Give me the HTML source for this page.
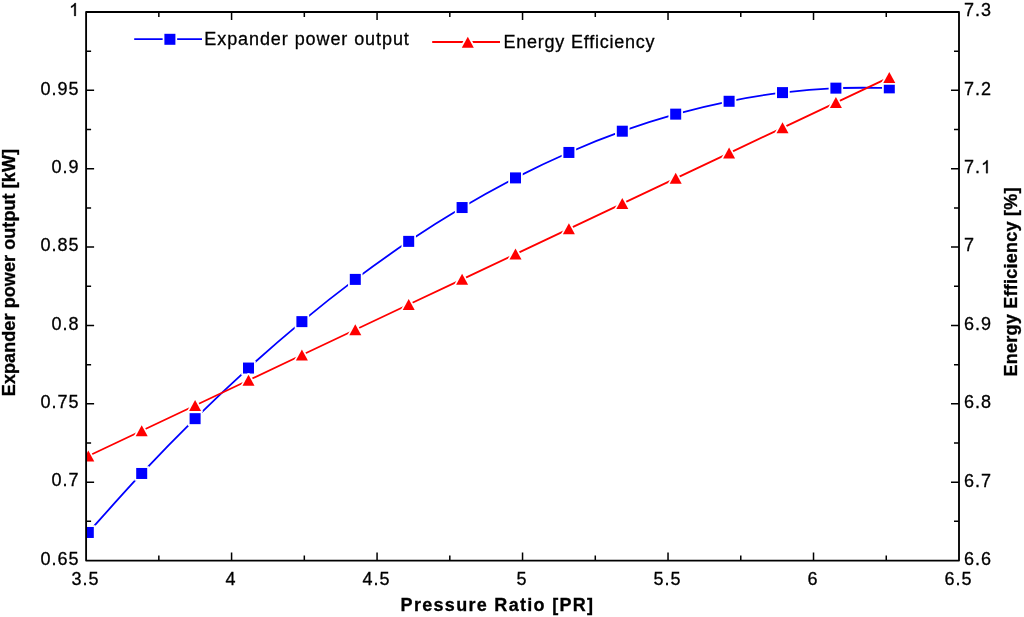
<!DOCTYPE html><html><head><meta charset="utf-8"><style>html,body{margin:0;padding:0;background:#fff;}svg{display:block;will-change:transform;}text{font-family:"Liberation Sans",sans-serif;stroke:#000;stroke-width:0.3px;}</style></head><body>
<svg width="1024" height="617" viewBox="0 0 1024 617">
<rect width="1024" height="617" fill="#fff"/>
<defs><clipPath id="pc"><rect x="86.1" y="12.0" width="872.9" height="548.55"/></clipPath></defs>
<g clip-path="url(#pc)">
<path d="M88.30,532.47 C97.20,522.64 123.90,492.44 141.70,473.47 C159.50,454.50 177.30,436.23 195.10,418.66 C212.90,401.09 230.70,384.22 248.50,368.05 C266.30,351.87 284.10,336.40 301.90,321.63 C319.70,306.85 337.50,292.78 355.30,279.40 C373.10,266.03 390.90,253.35 408.70,241.37 C426.50,229.40 444.30,218.12 462.10,207.54 C479.90,196.96 497.70,187.08 515.50,177.90 C533.30,168.72 551.10,160.23 568.90,152.45 C586.70,144.67 604.50,137.58 622.30,131.20 C640.10,124.82 657.90,119.13 675.70,114.14 C693.50,109.16 711.30,104.87 729.10,101.28 C746.90,97.69 764.70,94.80 782.50,92.61 C800.30,90.42 818.10,88.93 835.90,88.14 C853.70,87.35 880.40,87.91 889.30,87.86" fill="none" stroke="#00f" stroke-width="1.8"/>
<rect x="82.80" y="526.97" width="11.0" height="11.0" fill="#00f" stroke="#fff" stroke-width="3.5" paint-order="stroke"/>
<rect x="136.20" y="467.97" width="11.0" height="11.0" fill="#00f" stroke="#fff" stroke-width="3.5" paint-order="stroke"/>
<rect x="189.60" y="413.16" width="11.0" height="11.0" fill="#00f" stroke="#fff" stroke-width="3.5" paint-order="stroke"/>
<rect x="243.00" y="362.55" width="11.0" height="11.0" fill="#00f" stroke="#fff" stroke-width="3.5" paint-order="stroke"/>
<rect x="296.40" y="316.13" width="11.0" height="11.0" fill="#00f" stroke="#fff" stroke-width="3.5" paint-order="stroke"/>
<rect x="349.80" y="273.90" width="11.0" height="11.0" fill="#00f" stroke="#fff" stroke-width="3.5" paint-order="stroke"/>
<rect x="403.20" y="235.87" width="11.0" height="11.0" fill="#00f" stroke="#fff" stroke-width="3.5" paint-order="stroke"/>
<rect x="456.60" y="202.04" width="11.0" height="11.0" fill="#00f" stroke="#fff" stroke-width="3.5" paint-order="stroke"/>
<rect x="510.00" y="172.40" width="11.0" height="11.0" fill="#00f" stroke="#fff" stroke-width="3.5" paint-order="stroke"/>
<rect x="563.40" y="146.95" width="11.0" height="11.0" fill="#00f" stroke="#fff" stroke-width="3.5" paint-order="stroke"/>
<rect x="616.80" y="125.70" width="11.0" height="11.0" fill="#00f" stroke="#fff" stroke-width="3.5" paint-order="stroke"/>
<rect x="670.20" y="108.64" width="11.0" height="11.0" fill="#00f" stroke="#fff" stroke-width="3.5" paint-order="stroke"/>
<rect x="723.60" y="95.78" width="11.0" height="11.0" fill="#00f" stroke="#fff" stroke-width="3.5" paint-order="stroke"/>
<rect x="777.00" y="87.11" width="11.0" height="11.0" fill="#00f" stroke="#fff" stroke-width="3.5" paint-order="stroke"/>
<rect x="830.40" y="82.64" width="11.0" height="11.0" fill="#00f" stroke="#fff" stroke-width="3.5" paint-order="stroke"/>
<rect x="883.80" y="82.36" width="11.0" height="11.0" fill="#00f" stroke="#fff" stroke-width="3.5" paint-order="stroke"/>
<path d="M88.30,456.02 L141.70,430.78 L195.10,405.53 L248.50,380.29 L301.90,355.05 L355.30,329.81 L408.70,304.56 L462.10,279.32 L515.50,254.08 L568.90,228.83 L622.30,203.59 L675.70,178.35 L729.10,153.10 L782.50,127.86 L835.90,102.62 L889.30,77.38" fill="none" stroke="#f00" stroke-width="1.8"/>
<path d="M88.30,450.52 L94.30,461.52 L82.30,461.52 Z" fill="#f00" stroke="#fff" stroke-width="3.5" stroke-linejoin="round" paint-order="stroke"/>
<path d="M141.70,425.28 L147.70,436.28 L135.70,436.28 Z" fill="#f00" stroke="#fff" stroke-width="3.5" stroke-linejoin="round" paint-order="stroke"/>
<path d="M195.10,400.03 L201.10,411.03 L189.10,411.03 Z" fill="#f00" stroke="#fff" stroke-width="3.5" stroke-linejoin="round" paint-order="stroke"/>
<path d="M248.50,374.79 L254.50,385.79 L242.50,385.79 Z" fill="#f00" stroke="#fff" stroke-width="3.5" stroke-linejoin="round" paint-order="stroke"/>
<path d="M301.90,349.55 L307.90,360.55 L295.90,360.55 Z" fill="#f00" stroke="#fff" stroke-width="3.5" stroke-linejoin="round" paint-order="stroke"/>
<path d="M355.30,324.31 L361.30,335.31 L349.30,335.31 Z" fill="#f00" stroke="#fff" stroke-width="3.5" stroke-linejoin="round" paint-order="stroke"/>
<path d="M408.70,299.06 L414.70,310.06 L402.70,310.06 Z" fill="#f00" stroke="#fff" stroke-width="3.5" stroke-linejoin="round" paint-order="stroke"/>
<path d="M462.10,273.82 L468.10,284.82 L456.10,284.82 Z" fill="#f00" stroke="#fff" stroke-width="3.5" stroke-linejoin="round" paint-order="stroke"/>
<path d="M515.50,248.58 L521.50,259.58 L509.50,259.58 Z" fill="#f00" stroke="#fff" stroke-width="3.5" stroke-linejoin="round" paint-order="stroke"/>
<path d="M568.90,223.33 L574.90,234.33 L562.90,234.33 Z" fill="#f00" stroke="#fff" stroke-width="3.5" stroke-linejoin="round" paint-order="stroke"/>
<path d="M622.30,198.09 L628.30,209.09 L616.30,209.09 Z" fill="#f00" stroke="#fff" stroke-width="3.5" stroke-linejoin="round" paint-order="stroke"/>
<path d="M675.70,172.85 L681.70,183.85 L669.70,183.85 Z" fill="#f00" stroke="#fff" stroke-width="3.5" stroke-linejoin="round" paint-order="stroke"/>
<path d="M729.10,147.60 L735.10,158.60 L723.10,158.60 Z" fill="#f00" stroke="#fff" stroke-width="3.5" stroke-linejoin="round" paint-order="stroke"/>
<path d="M782.50,122.36 L788.50,133.36 L776.50,133.36 Z" fill="#f00" stroke="#fff" stroke-width="3.5" stroke-linejoin="round" paint-order="stroke"/>
<path d="M835.90,97.12 L841.90,108.12 L829.90,108.12 Z" fill="#f00" stroke="#fff" stroke-width="3.5" stroke-linejoin="round" paint-order="stroke"/>
<path d="M889.30,71.88 L895.30,82.88 L883.30,82.88 Z" fill="#f00" stroke="#fff" stroke-width="3.5" stroke-linejoin="round" paint-order="stroke"/>
</g>
<rect x="86.1" y="12.0" width="872.9" height="548.55" fill="none" stroke="#000" stroke-width="1.85" stroke-linejoin="round"/>
<path d="M158.84,560.55v-5.0M158.84,12.0v5.0M231.58,560.55v-8.0M231.58,12.0v8.0M304.32,560.55v-5.0M304.32,12.0v5.0M377.07,560.55v-8.0M377.07,12.0v8.0M449.81,560.55v-5.0M449.81,12.0v5.0M522.55,560.55v-8.0M522.55,12.0v8.0M595.29,560.55v-5.0M595.29,12.0v5.0M668.03,560.55v-8.0M668.03,12.0v8.0M740.77,560.55v-5.0M740.77,12.0v5.0M813.52,560.55v-8.0M813.52,12.0v8.0M886.26,560.55v-5.0M886.26,12.0v5.0M86.1,521.37h5.0M86.1,482.19h8.0M86.1,443.00h5.0M86.1,403.82h8.0M86.1,364.64h5.0M86.1,325.46h8.0M86.1,286.27h5.0M86.1,247.09h8.0M86.1,207.91h5.0M86.1,168.73h8.0M86.1,129.55h5.0M86.1,90.36h8.0M86.1,51.18h5.0M959.0,521.37h-5.0M959.0,482.19h-8.0M959.0,443.00h-5.0M959.0,403.82h-8.0M959.0,364.64h-5.0M959.0,325.46h-8.0M959.0,286.28h-5.0M959.0,247.09h-8.0M959.0,207.91h-5.0M959.0,168.73h-8.0M959.0,129.55h-5.0M959.0,90.36h-8.0M959.0,51.18h-5.0" stroke="#000" stroke-width="1.5" fill="none"/>
<text x="79.50" y="564.75" font-size="18" letter-spacing="1.0" text-anchor="end">0.65</text>
<text x="79.50" y="486.39" font-size="18" letter-spacing="1.0" text-anchor="end">0.7</text>
<text x="79.50" y="408.02" font-size="18" letter-spacing="1.0" text-anchor="end">0.75</text>
<text x="79.50" y="329.66" font-size="18" letter-spacing="1.0" text-anchor="end">0.8</text>
<text x="79.50" y="251.29" font-size="18" letter-spacing="1.0" text-anchor="end">0.85</text>
<text x="79.50" y="172.93" font-size="18" letter-spacing="1.0" text-anchor="end">0.9</text>
<text x="79.50" y="94.56" font-size="18" letter-spacing="1.0" text-anchor="end">0.95</text>
<path transform="translate(69.10,15.90) scale(0.008789,-0.008789)" d="M763,0L583,0L583,1147C540,1106 483,1064 413,1023C343,982 280,951 223,930L223,1104C324,1151 412,1208 487,1274C562,1340 615,1404 646,1466L763,1466Z" fill="#000" stroke="#000" stroke-width="34.1"/>
<text x="964.00" y="564.95" font-size="18" letter-spacing="1.0">6.6</text>
<text x="964.00" y="486.59" font-size="18" letter-spacing="1.0">6.7</text>
<text x="964.00" y="408.22" font-size="18" letter-spacing="1.0">6.8</text>
<text x="964.00" y="329.86" font-size="18" letter-spacing="1.0">6.9</text>
<text x="964.00" y="251.49" font-size="18" letter-spacing="1.0">7</text>
<text x="964.00" y="173.13" font-size="18" letter-spacing="1.0">7.</text>
<path transform="translate(981.01,173.13) scale(0.008789,-0.008789)" d="M763,0L583,0L583,1147C540,1106 483,1064 413,1023C343,982 280,951 223,930L223,1104C324,1151 412,1208 487,1274C562,1340 615,1404 646,1466L763,1466Z" fill="#000" stroke="#000" stroke-width="34.1"/>
<text x="964.00" y="94.76" font-size="18" letter-spacing="1.0">7.2</text>
<text x="964.00" y="16.40" font-size="18" letter-spacing="1.0">7.3</text>
<text x="85.60" y="584.6" font-size="18" letter-spacing="1.0" text-anchor="middle">3.5</text>
<text x="231.08" y="584.6" font-size="18" letter-spacing="1.0" text-anchor="middle">4</text>
<text x="376.57" y="584.6" font-size="18" letter-spacing="1.0" text-anchor="middle">4.5</text>
<text x="522.05" y="584.6" font-size="18" letter-spacing="1.0" text-anchor="middle">5</text>
<text x="667.53" y="584.6" font-size="18" letter-spacing="1.0" text-anchor="middle">5.5</text>
<text x="813.02" y="584.6" font-size="18" letter-spacing="1.0" text-anchor="middle">6</text>
<text x="958.50" y="584.6" font-size="18" letter-spacing="1.0" text-anchor="middle">6.5</text>
<path d="M134.2,39.1H202" stroke="#00f" stroke-width="1.8"/>
<rect x="164.4" y="33.8" width="11.0" height="11.0" fill="#00f" stroke="#fff" stroke-width="3.5" paint-order="stroke"/>
<text x="204.3" y="45.2" font-size="18" letter-spacing="0.92">Expander power output</text>
<path d="M432.2,42H500" stroke="#f00" stroke-width="1.8"/>
<path d="M467.80,36.70 L473.80,47.70 L461.80,47.70 Z" fill="#f00" stroke="#fff" stroke-width="3.5" stroke-linejoin="round" paint-order="stroke"/>
<text x="503.4" y="48" font-size="18" letter-spacing="0.78">Energy Efficiency</text>
<text x="400.6" y="611" font-size="18" font-weight="bold" letter-spacing="1.3">Pressure Ratio [PR]</text>
<text transform="translate(15.4,396.2) rotate(-90)" x="0" y="0" font-size="18" font-weight="bold" letter-spacing="0.09">Expander power output [kW]</text>
<text transform="translate(1017.3,376.6) rotate(-90)" x="0" y="0" font-size="18" font-weight="bold" letter-spacing="0.25">Energy Efficiency [%]</text>
</svg></body></html>
